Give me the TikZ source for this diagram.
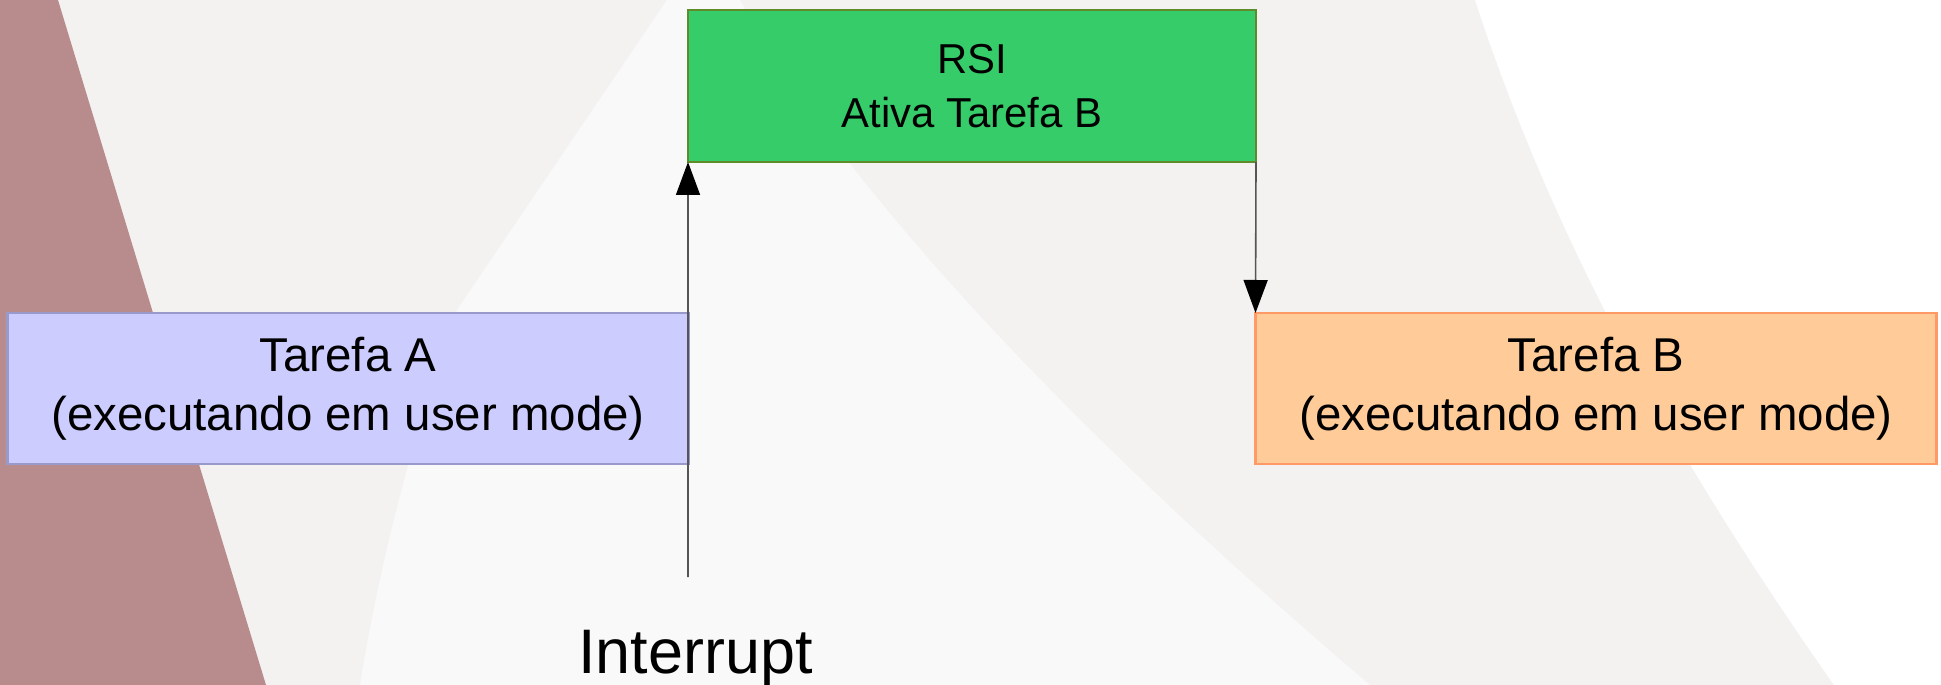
\documentclass[tikz,border=0pt]{standalone}
\usepackage{fontspec}
\setmainfont{Liberation Sans}
\usetikzlibrary{arrows.meta, positioning}

\definecolor{slideRed}{RGB}{184,140,140}
\definecolor{slideGray}{RGB}{244,241,241}
\definecolor{slideLight}{RGB}{250,249,249}
\definecolor{taskAFill}{RGB}{204,204,255}
\definecolor{taskADraw}{RGB}{153,153,204}
\definecolor{rsiFill}{RGB}{54,204,105}
\definecolor{rsiDraw}{RGB}{95,140,42}
\definecolor{taskBFill}{RGB}{255,204,153}
\definecolor{taskBDraw}{RGB}{255,153,102}
\definecolor{wireGray}{RGB}{85,85,85}

\tikzset{
    taskbox/.style={draw, line width=0.85pt, inner sep=0pt, outer sep=0pt, align=center,
        minimum width=6.81cm, minimum height=1.51cm,
        font=\fontsize{13.5pt}{16.8pt}\selectfont},
    rsibox/.style={draw=rsiDraw, fill=rsiFill, line width=0.8pt, inner sep=0pt, outer sep=0pt,
        align=center, minimum width=5.68cm, minimum height=1.52cm,
        font=\fontsize{11.9pt}{15.4pt}\selectfont},
    wire/.style={draw=wireGray, line width=0.45pt,
        -{Triangle[length=3.3mm, width=2.4mm, color=black]}}
}

\begin{document}
\begin{tikzpicture}
    \useasboundingbox (0,0) rectangle (19.41,-6.85);

    % Background
    \fill[slideGray] (0,0) rectangle (19.41,-6.85);
    \fill[slideLight] (6.67,0) -- (7.40,0) .. controls (8.6,-2.2) and (11.4,-4.9) .. (13.70,-6.85)
        -- (3.60,-6.85) .. controls (3.9,-5.0) and (4.4,-3.6) .. (4.57,-3.10) -- cycle;
    \fill[white] (14.75,0) .. controls (15.6,-2.6) and (16.9,-4.8) .. (18.34,-6.85)
        -- (19.41,-6.85) -- (19.41,0) -- cycle;
    \fill[slideRed] (0,0) -- (0.58,0) -- (2.66,-6.85) -- (0,-6.85) -- cycle;

    % Tasks and interrupt routine
    \node[taskbox, draw=taskADraw, fill=taskAFill] (taskA) at (3.48,-3.885)
        {Tarefa A\\(executando em user mode)};
    \node[rsibox] (rsi) at (9.72,-0.86) {RSI\\Ativa Tarefa B};
    \node[taskbox, draw=taskBDraw, fill=taskBFill] (taskB) at (15.96,-3.885)
        {Tarefa B\\(executando em user mode)};

    % Interrupt
    \node[font=\fontsize{17.9pt}{20pt}\selectfont, anchor=base] (irq) at (6.955,-6.73) {Interrupt};
    \coordinate (irqtail) at (6.88,-5.77);

    \draw[wire] (irqtail) -- (rsi.south west);
    \draw[wire] (rsi.south east) -- (taskB.north west);
\end{tikzpicture}
\end{document}
